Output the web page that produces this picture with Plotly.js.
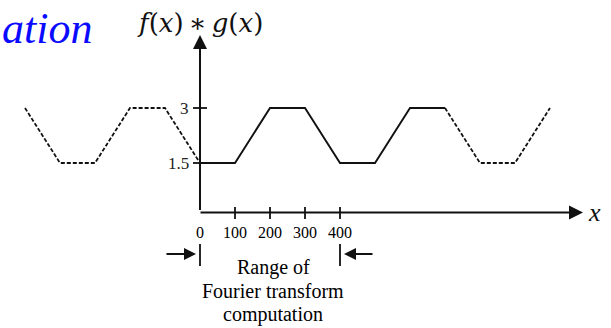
<!DOCTYPE html>
<html>
<head>
<meta charset="utf-8">
<script src="https://cdn.plot.ly/plotly-3.0.1.min.js"></script>
<style>html,body{margin:0;padding:0;background:#fff;}#chart{width:611px;height:328px;}</style>
</head>
<body>
<div id="chart"></div>
<script>
// ---- data ----
const waveX = [-500, -400, -300, -200, -100, 0, 100, 200, 300, 400, 500, 600, 700, 800, 900, 1000];
const waveY = [3, 1.5, 1.5, 3, 3, 1.5, 1.5, 3, 3, 1.5, 1.5, 3, 3, 1.5, 1.5, 3];
const solidFrom = 0;
const solidTo = 700;
const xTickVals = [0, 100, 200, 300, 400];
const xTickText = ['0', '100', '200', '300', '400'];
const yTickVals = [3, 1.5];
const yTickText = ['3', '1.5'];
const rangeStart = 0;
const rangeEnd = 400;
const rangeLabel = ['Range of', 'Fourier transform', 'computation'];
const yTitle = '<i>f</i>(<i>x</i>)\u2009\u2217\u2009<i>g</i>(<i>x</i>)';
const xTitle = '<i>x</i>';
const cornerText = '<i>ation</i>';

// ---- pixel <-> data helpers (layout only) ----
const W = 611, H = 328;
const X0_PX = 200, PX_PER_X = 0.35;
const Y15_PX = 163, Y3_PX = 108;
const PX_PER_Y = (Y15_PX - Y3_PX) / 1.5;
const xd = px => (px - X0_PX) / PX_PER_X;
const yd = py => 1.5 + (Y15_PX - py) / PX_PER_Y;
const axisY = yd(212.5);

const ink = '#111';
const serif = 'Liberation Serif, Times New Roman, serif';

function segment(lo, hi) {
  const xs = [], ys = [];
  waveX.forEach((x, i) => { if (x >= lo && x <= hi) { xs.push(x); ys.push(waveY[i]); } });
  return {xs, ys};
}
const left = segment(-Infinity, solidFrom);
const mid = segment(solidFrom, solidTo);
const right = segment(solidTo, Infinity);

const traces = [
  {x: left.xs, y: left.ys, mode: 'lines', line: {color: ink, width: 1.8, dash: '4px,2px'}, hoverinfo: 'skip'},
  {x: mid.xs, y: mid.ys, mode: 'lines', line: {color: ink, width: 1.9}, hoverinfo: 'skip'},
  {x: right.xs, y: right.ys, mode: 'lines', line: {color: ink, width: 1.8, dash: '4px,2px'}, hoverinfo: 'skip'}
];

// tick marks
const tx = [], ty = [];
xTickVals.forEach(v => { if (v !== 0) { tx.push(v, v, null); ty.push(yd(207), yd(219), null); } });
yTickVals.forEach(v => { tx.push(xd(193), xd(207), null); ty.push(v, v, null); });
// range bars
[rangeStart, rangeEnd].forEach(v => { tx.push(v, v, null); ty.push(yd(244), yd(266), null); });
traces.push({x: tx, y: ty, mode: 'lines', line: {color: ink, width: 1.8}, hoverinfo: 'skip'});

const annotations = [];
// axes with arrows
annotations.push({x: xd(583), y: axisY, ax: xd(199), ay: axisY, axref: 'x', ayref: 'y', text: '', showarrow: true,
  arrowhead: 2, arrowsize: 1.4, arrowwidth: 2, arrowcolor: ink, standoff: 0, startstandoff: 0});
annotations.push({x: 0, y: yd(35), ax: 0, ay: axisY + 0.03, axref: 'x', ayref: 'y', text: '', showarrow: true,
  arrowhead: 2, arrowsize: 1.4, arrowwidth: 2, arrowcolor: ink, standoff: 0, startstandoff: 0});
// range arrows
annotations.push({x: rangeStart - 4 / PX_PER_X, y: yd(254), ax: rangeStart - 35 / PX_PER_X, ay: yd(254), axref: 'x', ayref: 'y',
  text: '', showarrow: true, arrowhead: 2, arrowsize: 1.2, arrowwidth: 2, arrowcolor: ink, standoff: 0});
annotations.push({x: rangeEnd + 4 / PX_PER_X, y: yd(254), ax: rangeEnd + 34 / PX_PER_X, ay: yd(254), axref: 'x', ayref: 'y',
  text: '', showarrow: true, arrowhead: 2, arrowsize: 1.2, arrowwidth: 2, arrowcolor: ink, standoff: 0});

// tick labels
xTickVals.forEach((v, i) => annotations.push({x: v, y: yd(232), text: xTickText[i], showarrow: false,
  xanchor: 'center', yanchor: 'middle', font: {family: serif, size: 16, color: '#000'}}));
yTickVals.forEach((v, i) => annotations.push({x: xd(191), y: v, text: yTickText[i], showarrow: false,
  xanchor: 'right', yanchor: 'middle', font: {family: serif, size: 17, color: '#222'}}));

// range label
const labelY = [267, 291, 314];
rangeLabel.forEach((t, i) => annotations.push({x: xd(273), y: yd(labelY[i]), text: t, showarrow: false,
  xanchor: 'center', yanchor: 'middle', font: {family: serif, size: 20, color: '#000'}}));

// titles
annotations.push({x: 0, y: yd(23), text: yTitle, showarrow: false, xanchor: 'center', yanchor: 'middle',
  font: {family: 'DejaVu Serif, serif', size: 26, color: ink}});
annotations.push({x: xd(594), y: axisY, text: xTitle, showarrow: false, xanchor: 'center', yanchor: 'middle',
  font: {family: serif, size: 26, color: ink}});
annotations.push({xref: 'paper', x: 0, y: yd(28), text: cornerText, showarrow: false, xanchor: 'left', yanchor: 'middle',
  font: {family: serif, size: 44, color: '#0a0aff'}});

const layout = {
  width: W, height: H,
  margin: {l: 0, r: 0, t: 0, b: 0, pad: 0},
  paper_bgcolor: '#fff', plot_bgcolor: '#fff',
  showlegend: false,
  xaxis: {range: [xd(0), xd(W)], visible: false, fixedrange: true},
  yaxis: {range: [yd(H), yd(0)], visible: false, fixedrange: true},
  annotations: annotations
};

Plotly.newPlot('chart', traces, layout, {staticPlot: true, displayModeBar: false});
</script>
</body>
</html>
